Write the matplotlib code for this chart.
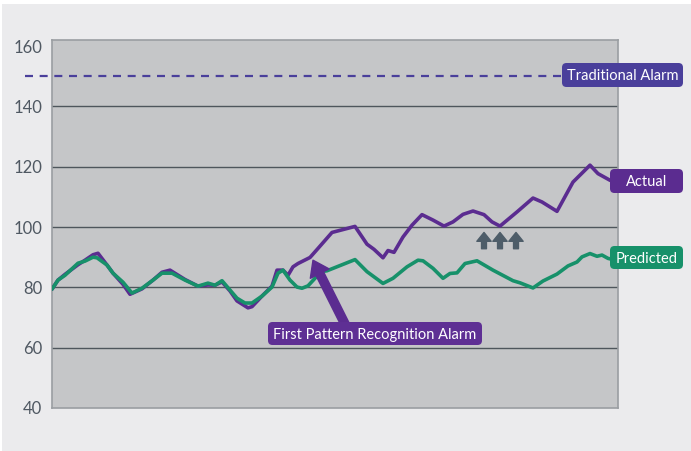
import matplotlib
matplotlib.use("Agg")
import matplotlib.pyplot as plt
from matplotlib.patches import FancyBboxPatch, Rectangle
from matplotlib.transforms import IdentityTransform

plt.rcParams['font.family'] = ['Lato', 'DejaVu Sans']

# ---- data (time index, value) ----
actual_t = [0, 6, 13, 26, 33, 41, 46, 55, 61, 71, 78, 90, 101, 110, 118, 133, 146, 156, 163, 170,
            178, 185, 196, 200, 210, 220, 225, 231, 236, 241, 246, 258, 266, 280, 303, 315, 322, 331,
            336, 342, 351, 360, 370, 381, 392, 401, 411, 421, 432, 440, 448, 465, 481, 490, 505, 521,
            538, 546, 558, 560]
actual_v = [79.4, 82.4, 84.3, 87.5, 89.0, 90.8, 91.3, 87.4, 84.7, 81.0, 77.7, 79.5, 82.4, 85.0, 85.7,
            82.6, 80.4, 80.8, 80.7, 81.8, 78.8, 75.5, 73.2, 73.6, 77.1, 80.4, 85.7, 85.7, 84.0, 86.8,
            87.9, 89.9, 92.9, 98.2, 100.2, 94.3, 92.6, 89.8, 92.2, 91.6, 96.7, 100.6, 104.1, 102.3,
            100.3, 101.7, 104.2, 105.3, 104.1, 101.7, 100.3, 105.0, 109.6, 108.3, 105.2, 114.9, 120.5,
            117.7, 115.5, 115.3]

pred_t = [0, 6, 13, 26, 33, 41, 45, 55, 61, 71, 80, 90, 101, 110, 120, 133, 146, 156, 163, 170,
          178, 185, 193, 200, 210, 220, 226, 231, 238, 245, 250, 256, 263, 269, 275, 303, 315, 331,
          341, 355, 366, 371, 381, 391, 398, 405, 413, 425, 441, 461, 468, 481, 491, 505, 516, 525,
          530, 538, 545, 550, 556, 560]
pred_v = [79.4, 82.4, 84.0, 88.0, 88.7, 90.0, 89.8, 87.4, 84.7, 81.7, 78.1, 79.7, 82.4, 84.7, 84.7,
          82.4, 80.4, 81.4, 80.7, 82.2, 79.1, 76.4, 74.8, 74.8, 77.1, 80.1, 84.7, 85.7, 82.4, 80.1,
          79.7, 80.5, 83.0, 85.2, 85.5, 89.2, 85.2, 81.3, 83.0, 86.8, 89.0, 88.8, 86.3, 83.0, 84.6,
          84.8, 87.9, 88.8, 85.7, 82.2, 81.5, 79.8, 82.1, 84.4, 87.1, 88.4, 90.1, 91.2, 90.3, 90.7,
          89.6, 89.3]

traditional_alarm = 150
yticks = [40, 60, 80, 100, 120, 140, 160]

PURPLE = "#5B2C90"
GREEN = "#17916A"
INDIGO = "#4A3F9B"
ARROW_GRAY = "#4E5D69"

W, H = 691, 451
fig = plt.figure(figsize=(W / 100, H / 100), dpi=100, facecolor="white")
fig.patches.append(Rectangle((2 / W, 0), 1, (H - 4) / H, transform=fig.transFigure,
                             facecolor="#EBEBED", edgecolor="none", zorder=-10))

ax = fig.add_axes([52 / W, (H - 408) / H, (618 - 52) / W, (408 - 40) / H])
ax.set_facecolor("#C5C6C8")
ax.set_xlim(0, 566)
ax.set_ylim(40, 162)
ax.set_xticks([])
ax.set_yticks(yticks)
ax.set_yticklabels([str(v) for v in yticks])
ax.tick_params(axis="y", length=0, pad=7, labelsize=12, labelcolor="#4F5862")
for s in ax.spines.values():
    s.set_color("#9A9EA2")
    s.set_linewidth(1.2)
for v in yticks[1:-1]:
    ax.axhline(v, color="#4E565C", lw=1.0, zorder=1)

# traditional alarm dashed line
ax.axhline(traditional_alarm, xmin=-0.048, xmax=0.92, color=INDIGO, lw=1.6,
           dashes=(3.6, 3.0), clip_on=False, zorder=2)

ax.plot(actual_t, actual_v, color=PURPLE, lw=2.6, zorder=3, solid_joinstyle="round",
        solid_capstyle="round")
ax.plot(pred_t, pred_v, color=GREEN, lw=2.6, zorder=4, solid_joinstyle="round",
        solid_capstyle="round")

# big alarm arrow
ax.annotate("", xy=(261, 89.0), xytext=(295, 66.5),
            arrowprops=dict(arrowstyle="simple,head_length=0.75,head_width=1.05,tail_width=0.42",
                            fc=PURPLE, ec=PURPLE, mutation_scale=14.4, shrinkA=0, shrinkB=0),
            zorder=5)

# three small arrows
for xt in (432, 448, 464):
    ax.annotate("", xy=(xt, 98.2), xytext=(xt, 92.8),
                arrowprops=dict(arrowstyle="simple,head_length=0.65,head_width=1.05,tail_width=0.36",
                                fc=ARROW_GRAY, ec=ARROW_GRAY, mutation_scale=9.8,
                                shrinkA=0, shrinkB=0), zorder=5)


def label_box(x0, x1, ytop, ybot, text, color, size=10.5):
    # pixel coordinates from the top-left of the image
    bx0, bx1 = x0, x1
    by0, by1 = H - ybot, H - ytop
    p = FancyBboxPatch((bx0, by0), bx1 - bx0, by1 - by0,
                       boxstyle="round,pad=0,rounding_size=4.5",
                       transform=IdentityTransform(), facecolor=color, edgecolor="none",
                       zorder=10)
    fig.patches.append(p)
    fig.text((bx0 + bx1) / 2, (by0 + by1) / 2, text, transform=IdentityTransform(),
             ha="center", va="center_baseline", color="white", fontsize=size, zorder=11)


label_box(562, 683, 63, 87, "Traditional Alarm", INDIGO)
label_box(610, 683, 169, 193, "Actual", PURPLE)
label_box(610, 683, 246, 269, "Predicted", GREEN)
label_box(268, 482, 322, 345, "First Pattern Recognition Alarm", "#5E2F94")

fig.savefig("out.png", dpi=100, facecolor=fig.get_facecolor())
